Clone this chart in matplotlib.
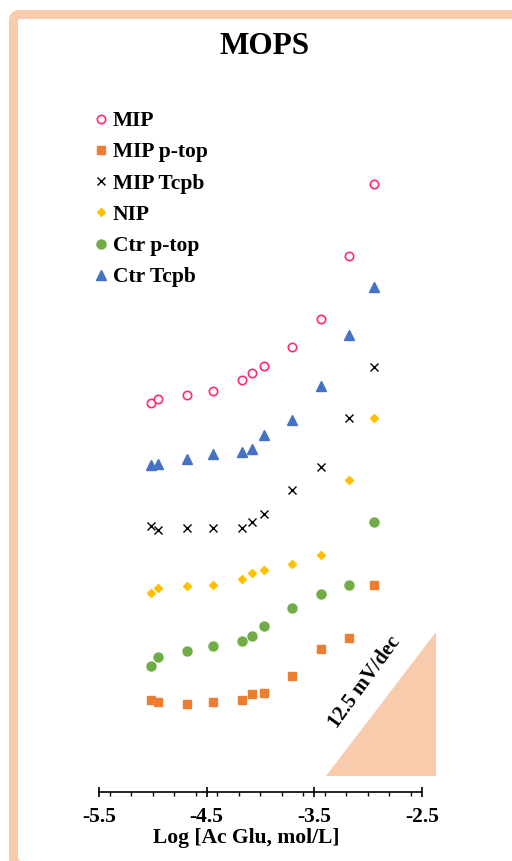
import matplotlib
matplotlib.use("Agg")
import matplotlib.pyplot as plt
from matplotlib.patches import FancyBboxPatch, Polygon
from matplotlib.transforms import IdentityTransform
from matplotlib.ticker import MultipleLocator

plt.rcParams['font.family'] = ['Liberation Serif', 'DejaVu Serif']
plt.rcParams['font.weight'] = 'bold'

# ---- data (log concentration, potential in mV, arbitrary offset) ----
log_c = [-5.02, -4.95, -4.68, -4.44, -4.17, -4.08, -3.97, -3.71, -3.44, -3.18, -2.94]

mip        = [33.8, 34.1, 34.5, 34.8, 35.8, 36.4, 37.0, 38.6, 41.1, 46.5, 52.8]
mip_ptop   = [8.0, 7.8, 7.6, 7.8, 8.0, 8.5, 8.6, 10.1, 12.4, 13.4, 18.0]
mip_tcpb   = [23.1, 22.7, 22.9, 22.9, 22.9, 23.4, 24.1, 26.2, 28.2, 32.5, 36.9]
nip        = [17.3, 17.7, 17.9, 18.0, 18.5, 19.0, 19.3, 19.8, 20.6, 27.1, 32.5]
ctr_ptop   = [10.9, 11.7, 12.2, 12.7, 13.1, 13.5, 14.4, 16.0, 17.2, 18.0, 23.4]
ctr_tcpb   = [28.4, 28.5, 28.9, 29.3, 29.5, 29.8, 31.0, 32.3, 35.2, 39.7, 43.8]

series_labels = ['MIP', 'MIP p-top', 'MIP Tcpb', 'NIP', 'Ctr p-top', 'Ctr Tcpb']

x_ticks = [-5.5, -4.5, -3.5, -2.5]
x_ticklabels = ['-5.5', '-4.5', '-3.5', '-2.5']

slope_mv_per_dec = 12.5
slope_x0 = -3.39
slope_width_dec = 1.02
slope_y0 = 1.4

W, H = 512, 861
fig = plt.figure(figsize=(W / 100, H / 100), dpi=100)
fig.patch.set_facecolor('white')

ax_left, ax_right, ax_bottom, ax_top = 99, 421.7, 792, 60
ax = fig.add_axes([ax_left / W, 1 - ax_bottom / H, (ax_right - ax_left) / W, (ax_bottom - ax_top) / H])
ax.set_xlim(-5.5, -2.5)
ax.set_ylim(0, (ax_bottom - ax_top) / 11.52)

h1, = ax.plot(log_c, mip, ls='none', marker='o', ms=6, mfc='white', mec='#FF2A72', mew=1.2, label=series_labels[0])
h2, = ax.plot(log_c, mip_ptop, ls='none', marker='s', ms=6, color='#ED7D31', label=series_labels[1])
h3, = ax.plot(log_c, mip_tcpb, ls='none', marker='x', ms=6, color='black', mew=1.0, label=series_labels[2])
h4, = ax.plot(log_c, nip, ls='none', marker='D', ms=4.5, color='#FFC000', label=series_labels[3])
h5, = ax.plot(log_c, ctr_ptop, ls='none', marker='o', ms=6.5, color='#70AD47', label=series_labels[4])
h6, = ax.plot(log_c, ctr_tcpb, ls='none', marker='^', ms=6.5, color='#4472C4', label=series_labels[5])

# slope triangle
x1 = slope_x0 + slope_width_dec
tri = Polygon([[slope_x0, slope_y0], [x1, slope_y0], [x1, slope_y0 + slope_mv_per_dec]],
              closed=True, facecolor='#F8CBAD', edgecolor='none', clip_on=False, zorder=1)
ax.add_patch(tri)
ax.text(-3.03, 9.5, '12.5 mV/dec', rotation=54, rotation_mode='anchor', ha='center', va='center',
        fontsize=14.8, fontweight='bold')

# axes styling
for s in ['top', 'right', 'left']:
    ax.spines[s].set_visible(False)
ax.spines['bottom'].set_linewidth(1.2)
ax.set_yticks([])
ax.set_xticks(x_ticks)
ax.set_xticklabels(x_ticklabels, fontsize=15.5, fontweight='bold')
ax.xaxis.set_minor_locator(MultipleLocator(0.2))
ax.tick_params(axis='x', which='major', direction='inout', length=7, width=1.2, pad=7)
ax.tick_params(axis='x', which='minor', direction='out', length=3, width=1.0)
ax.set_xlabel('Log [Ac Glu, mol/L]', fontsize=15.5, fontweight='bold')
ax.xaxis.set_label_coords((246 - ax_left) / (ax_right - ax_left), -(828 - ax_bottom) / (ax_bottom - ax_top))
ax.patch.set_alpha(0)

fig.text(265 / W, 1 - 47 / H, 'MOPS', ha='center', va='center', fontsize=22.5, fontweight='bold')

leg = ax.legend(handles=[h1, h2, h3, h4, h5, h6], loc='upper left',
                bbox_to_anchor=(96.8 / W, 1 - 111 / H), bbox_transform=fig.transFigure,
                frameon=False, prop={'family': 'Liberation Serif', 'weight': 'bold', 'size': 15.5},
                handlelength=0.4, handletextpad=0.33, labelspacing=0.52, borderpad=0, borderaxespad=0)

# border
border = FancyBboxPatch((13.5, -3), 530 - 13.5, 846.5 + 3, boxstyle='round,pad=0,rounding_size=6',
                        transform=IdentityTransform(), facecolor='none', edgecolor='#F8CBAD',
                        linewidth=9 * 72 / 100, zorder=10)
fig.patches.append(border)

fig.savefig('out.png', dpi=100)
